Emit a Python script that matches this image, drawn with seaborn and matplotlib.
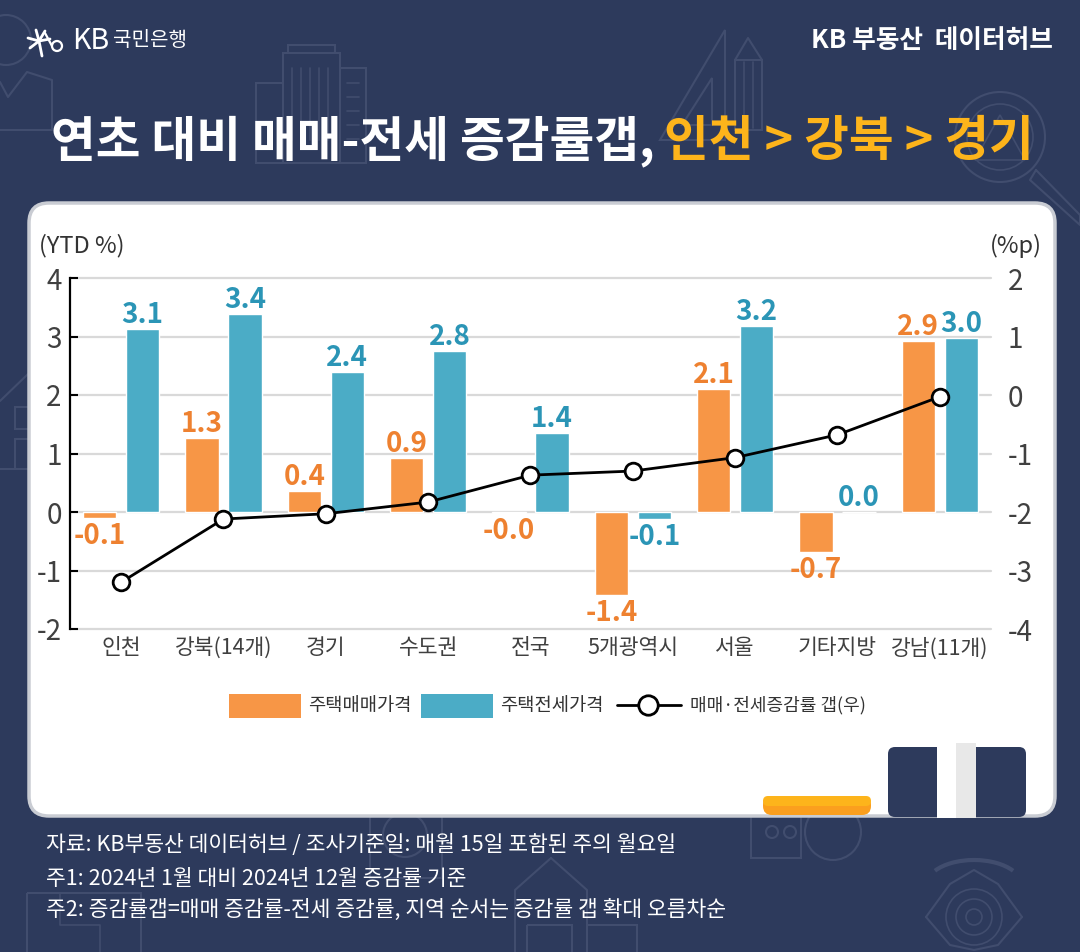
"""
KB 부동산 데이터허브 - 연초 대비 매매-전세 증감률갭 차트
"""

import matplotlib
matplotlib.use("Agg")
import matplotlib.pyplot as plt
from matplotlib.lines import Line2D
from matplotlib.patches import Arc, Circle, FancyBboxPatch, Polygon, Rectangle
import pandas as pd
import seaborn as sns

REGIONS = ["인천", "강북(14개)", "경기", "수도권", "전국", "5개광역시", "서울", "기타지방", "강남(11개)"]
SALE = [-0.10, 1.27, 0.36, 0.93, -0.02, -1.42, 2.10, -0.68, 2.92]
JEONSE = [3.12, 3.38, 2.39, 2.76, 1.35, -0.12, 3.18, 0.00, 2.98]
GAP = [-3.20, -2.12, -2.03, -1.83, -1.37, -1.30, -1.07, -0.68, -0.03]
LEFT_TICKS = [-2, -1, 0, 1, 2, 3, 4]
RIGHT_TICKS = [-4, -3, -2, -1, 0, 1, 2]
SERIES_SALE = "주택매매가격"
SERIES_JEONSE = "주택전세가격"
SERIES_GAP = "매매·전세증감률 갭(우)"

NAVY = "#2D3A5C"
DECOR = "#414D6E"
YELLOW = "#FDB41B"
ORANGE = "#F79646"
BLUE = "#4BACC6"
ORANGE_TXT = "#EE8130"
BLUE_TXT = "#2B95B6"
W, H = 1080, 952

sns.set_theme(style="white")
plt.rcParams["font.family"] = ["Noto Sans CJK KR", "DejaVu Sans"]
plt.rcParams["axes.unicode_minus"] = False

df = pd.DataFrame({
    "region": REGIONS * 2,
    "series": [SERIES_SALE] * len(REGIONS) + [SERIES_JEONSE] * len(REGIONS),
    "value": SALE + JEONSE,
})

fig = plt.figure(figsize=(W / 100, H / 100), dpi=100, facecolor=NAVY)

# 배경/카드 레이어 (픽셀 좌표)
bg = fig.add_axes([0, 0, 1, 1], zorder=0)
bg.set_xlim(0, W)
bg.set_ylim(H, 0)
bg.axis("off")


def deco_line(xs, ys, lw=1.5):
    bg.add_line(Line2D(xs, ys, color=DECOR, lw=lw, zorder=1))


def deco_box(x, y, w, h, lw=1.5):
    bg.add_patch(Rectangle((x, y), w, h, fill=False, ec=DECOR, lw=lw, zorder=1))


def deco_circle(x, y, r, lw=1.5):
    bg.add_patch(Circle((x, y), r, fill=False, ec=DECOR, lw=lw, zorder=1))


def label_bars(bars, values, color):
    # 양수/음수 라벨 간격이 달라서 나눠서 붙임
    ups = [f"{v:.1f}" if v >= 0 else "" for v in values]
    downs = [f"{v:.1f}" if v < 0 else "" for v in values]
    ax.bar_label(bars, labels=ups, padding=0, color=color, fontsize=20, fontweight="bold", zorder=4)
    ax.bar_label(bars, labels=downs, padding=3, color=color, fontsize=20, fontweight="bold", zorder=4)


# 배경 아이콘 - 상단
deco_circle(6, 40, 25)
deco_line([0, 8, 27, 52, 52, 0], [82, 97, 72, 80, 130, 130])
deco_box(283, 53, 57, 110)
deco_box(288, 45, 47, 8)
deco_box(256, 83, 27, 80)
deco_box(340, 68, 26, 95)
for bx in range(292, 335, 9):
    deco_line([bx, bx], [68, 140], lw=1.2)
for by in range(83, 145, 14):
    deco_line([347, 359], [by, by], lw=1.2)
bg.add_patch(Polygon([(725, 30), (725, 140), (660, 140)], fill=False, ec=DECOR, lw=1.5, zorder=1))
bg.add_patch(Polygon([(712, 78), (712, 125), (682, 125)], fill=False, ec=DECOR, lw=1.5, zorder=1))
deco_box(735, 60, 27, 70)
deco_line([735, 748, 762], [60, 38, 60])
deco_line([744, 744], [62, 128], lw=1.2)
deco_line([753, 753], [62, 128], lw=1.2)
deco_circle(1000, 137, 45)
deco_circle(1000, 137, 33, lw=1.2)
deco_line([1036, 1080, 1080, 1030, 1036], [170, 215, 225, 180, 170])
bg.add_patch(Polygon([(975, 160), (1000, 115), (1025, 160)], fill=False, ec=DECOR, lw=1.2, zorder=1))

# 배경 아이콘 - 좌측, 하단
deco_line([0, 28], [401, 374])
deco_box(15, 407, 15, 22)
deco_box(15, 439, 15, 30)
deco_line([0, 28], [469, 469])
deco_box(27, 893, 114, 70)
deco_line([60, 60, 100, 100], [893, 925, 925, 952], lw=1.2)
deco_box(370, 815, 72, 63)
deco_circle(405, 835, 22)
deco_line([551, 515, 515], [858, 890, 952])
deco_line([551, 587, 587], [858, 890, 952])
deco_box(527, 925, 45, 40)
deco_box(587, 925, 50, 40)
deco_box(751, 815, 50, 43)
deco_circle(772, 832, 6)
deco_circle(790, 832, 6)
deco_circle(833, 832, 28)
deco_line([926, 950, 974, 998, 1022], [917, 884, 870, 884, 917])
deco_line([926, 950, 974, 998, 1022], [917, 945, 950, 945, 917])
deco_circle(974, 917, 28, lw=1.2)
deco_circle(974, 917, 18, lw=1.2)
deco_circle(974, 917, 8, lw=1.2)
bg.add_patch(Arc((974, 885), 95, 50, theta1=200, theta2=340, ec=DECOR, lw=3, zorder=1))

# 흰색 카드
bg.add_patch(FancyBboxPatch((29, 203), 1026, 613, boxstyle="round,pad=0,rounding_size=20",
                            fc="white", ec="#C9CCD3", lw=2.5, zorder=2))
bg.add_patch(FancyBboxPatch((763, 796), 108, 19, boxstyle="round,pad=0,rounding_size=9",
                            fc="#FB9F1E", ec="none", zorder=3))
bg.add_patch(FancyBboxPatch((763, 796), 108, 10, boxstyle="round,pad=0,rounding_size=5",
                            fc=YELLOW, ec="none", zorder=3))
bg.add_patch(FancyBboxPatch((888, 747), 138, 70, boxstyle="round,pad=0,rounding_size=7",
                            fc=NAVY, ec="none", zorder=3))
bg.add_patch(Rectangle((937, 743), 19, 75, fc="white", ec="none", zorder=4))
bg.add_patch(Rectangle((956, 743), 20, 75, fc="#E8E8E8", ec="none", zorder=4))

# 로고
for dx, dy in [(-11, -3), (11, -2), (-9, 7), (6, -10), (-3, -11), (3, 15)]:
    bg.add_line(Line2D([39, 39 + dx], [41, 41 + dy], color="white", lw=2, solid_capstyle="round", zorder=5))
bg.add_patch(Circle((57, 46), 5, fill=False, ec="white", lw=1.6, zorder=5))
bg.add_line(Line2D([45, 52], [33, 46], color="white", lw=1.6, zorder=5))
bg.text(72, 41, "KB", color="white", fontsize=20.5, va="center", ha="left", fontweight="light")
bg.text(113, 41, "국민은행", color="white", fontsize=14.5, va="center", ha="left", fontweight="medium")
bg.text(1053, 40, "KB 부동산  데이터허브", color="white", fontsize=18.5, va="center", ha="right", fontweight="bold")

# 제목
bg.text(655, 141, "연초 대비 매매-전세 증감률갭,", color="white", fontsize=35, va="center", ha="right", fontweight="black")
bg.text(664, 141, "인천 > 강북 > 경기", color=YELLOW, fontsize=35, va="center", ha="left", fontweight="black")

# 차트
ax = fig.add_axes([70 / W, 1 - 629 / H, 921 / W, 351 / H], zorder=2)
ax.patch.set_visible(False)
sns.barplot(
    data=df, x="region", y="value", hue="series", order=REGIONS,
    hue_order=[SERIES_SALE, SERIES_JEONSE],
    palette=[ORANGE, BLUE], width=0.84, gap=0.22, saturation=1, errorbar=None,
    legend=False, ax=ax, zorder=3,
)
ax.set_xlim(-0.5, len(REGIONS) - 0.5)
ax.set_ylim(LEFT_TICKS[0], LEFT_TICKS[-1])
ax.set_yticks(LEFT_TICKS)
ax.set_yticklabels([str(t) for t in LEFT_TICKS], fontsize=20, color="#404040")
ax.set_xlabel("")
ax.set_ylabel("")
ax.tick_params(axis="y", direction="in", length=5.5, width=1.5, color="black", pad=6, left=True)
ax.tick_params(axis="x", length=0, labelsize=15.5, labelcolor="#404040", pad=6)
ax.yaxis.grid(True, color="#D9D9D9", lw=1.6, zorder=0, clip_on=False)
ax.set_axisbelow(True)
for name, spine in ax.spines.items():
    spine.set_visible(name == "left")
ax.spines["left"].set_color("black")
ax.spines["left"].set_linewidth(1.6)

label_bars(ax.containers[0], SALE, ORANGE_TXT)
label_bars(ax.containers[1], JEONSE, BLUE_TXT)

ax2 = ax.twinx()
ax2.patch.set_visible(False)
sns.lineplot(
    x=REGIONS, y=GAP, sort=False, color="black", lw=2, marker="o", markersize=12,
    markerfacecolor="white", markeredgecolor="black", markeredgewidth=2,
    errorbar=None, ax=ax2, zorder=6,
)
ax2.set_ylim(RIGHT_TICKS[0], RIGHT_TICKS[-1])
ax2.set_yticks(RIGHT_TICKS)
ax2.set_yticklabels([str(t) for t in RIGHT_TICKS], fontsize=20, color="#404040")
ax2.tick_params(axis="y", length=0, pad=12, right=True)
ax2.set_ylabel("")
ax2.grid(False)
for spine in ax2.spines.values():
    spine.set_visible(False)

bg.text(39, 246, "(YTD %)", color="#333333", fontsize=17, va="center", ha="left")
bg.text(1042, 246, "(%p)", color="#333333", fontsize=17, va="center", ha="right")

# 범례
bg.add_patch(Rectangle((229, 694), 72, 24, fc=ORANGE, ec="none", zorder=3))
bg.text(308, 705, SERIES_SALE, color="#333333", fontsize=13.5, va="center", ha="left")
bg.add_patch(Rectangle((421, 694), 72, 24, fc=BLUE, ec="none", zorder=3))
bg.text(500, 705, SERIES_JEONSE, color="#333333", fontsize=13.5, va="center", ha="left")
bg.add_line(Line2D([617, 681], [705, 705], color="black", lw=2, zorder=3))
bg.add_line(Line2D([648], [705], color="black", marker="o", ms=14, mfc="white", mec="black", mew=2, zorder=4))
bg.text(690, 705, SERIES_GAP, color="#333333", fontsize=13, va="center", ha="left")

# 주석
bg.text(46, 845, "자료: KB부동산 데이터허브 / 조사기준일: 매월 15일 포함된 주의 월요일", color="white", fontsize=15.5, va="center", ha="left")
bg.text(46, 879, "주1: 2024년 1월 대비 2024년 12월 증감률 기준", color="white", fontsize=15.5, va="center", ha="left")
bg.text(46, 910, "주2: 증감률갭=매매 증감률-전세 증감률, 지역 순서는 증감률 갭 확대 오름차순", color="white", fontsize=15.5, va="center", ha="left")

fig.savefig("out.png", dpi=100, facecolor=NAVY)
plt.close(fig)
